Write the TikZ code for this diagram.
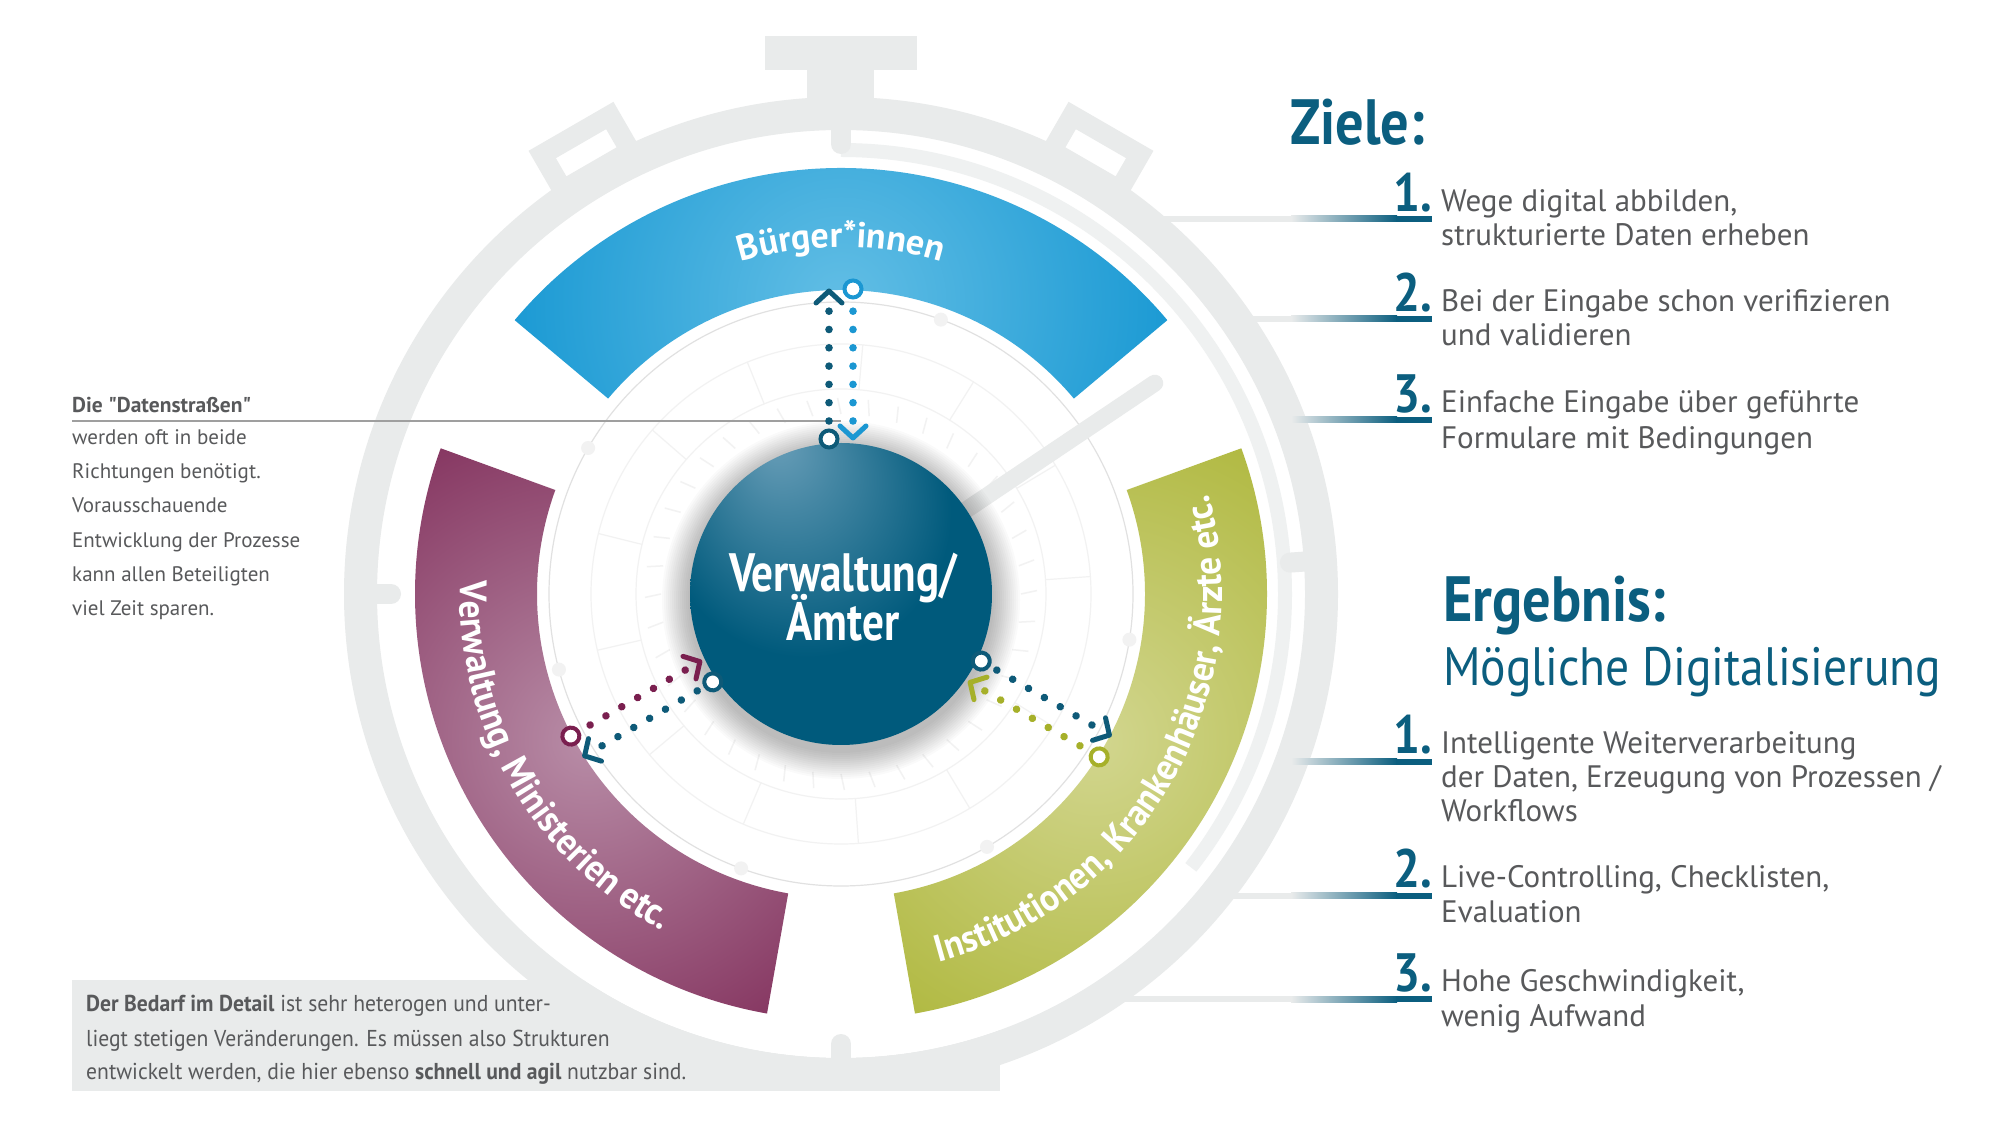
\documentclass[tikz,border=0pt]{standalone}
\usepackage{fontspec}
\setmainfont{PT Sans}
\newfontfamily\condfont[FakeStretch=0.88]{PT Sans}
\newfontfamily\botfont[FakeStretch=0.94]{PT Sans}
\newfontfamily\narrowfont[FakeStretch=0.80]{PT Sans}
\newfontfamily\labelfont[FakeStretch=0.93]{PT Sans}
\usetikzlibrary{calc,decorations.text}

\definecolor{ringgray}{HTML}{E9EBEB}
\definecolor{arcgray}{HTML}{EFF1F1}
\definecolor{tealc}{HTML}{0B5E7F}
\definecolor{txtgray}{HTML}{58595B}
\definecolor{bluedark}{HTML}{0890CF}
\definecolor{bluelight}{HTML}{62BEE5}
\definecolor{purdark}{HTML}{761B4B}
\definecolor{purlight}{HTML}{B88DA7}
\definecolor{grndark}{HTML}{A6B029}
\definecolor{grnlight}{HTML}{D2D68F}
\definecolor{centerdark}{HTML}{005A7C}
\definecolor{centerlight}{HTML}{6A9FB9}
\definecolor{dotteal}{HTML}{0E5A78}
\definecolor{dotblue}{HTML}{1B97D2}
\definecolor{dotpur}{HTML}{7A1F4F}
\definecolor{dotgrn}{HTML}{A6B02A}
\definecolor{faint}{HTML}{F2F2F2}

\pgfdeclareradialshading{centersh}{\pgfpoint{-11bp}{26bp}}{color(0bp)=(centerlight); color(8bp)=(centerlight!65!centerdark); color(24bp)=(centerdark); color(50bp)=(centerdark)}

\newcommand{\dataroad}[2]{%
 \begin{scope}[shift={(C)}, rotate=#1]
  \foreach \i in {0,...,6}{\fill[dotteal] ({173+18.3*\i},12) circle (3.8);}
  \draw[dotteal, line width=4, fill=white] (155,12) circle (8.5);
  \draw[dotteal, chev] (291,25) -- (303,12) -- (291,-1);
  \foreach \i in {0,...,6}{\fill[#2] ({173+18.3*\i},-12) circle (3.8);}
  \draw[#2, line width=4, fill=white] (305,-12) circle (8.5);
  \draw[#2, chev] (168,1) -- (156,-12) -- (168,-25);
 \end{scope}}

\newcommand{\itemline}[2]{%
  \draw[ringgray, line width=6] (#1,#2) -- (1292,#2);
  \shade[left color=ringgray, right color=tealc] (1291,#2-3) rectangle (1397,#2+3);
  \fill[tealc] (1396,#2-3) rectangle (1432,#2+3);}

\begin{document}
\begin{tikzpicture}[x=1pt,y=1pt,
  chev/.style={line width=5, line cap=round, line join=round},
  itemtxt/.style={anchor=base west, inner sep=0pt, text=txtgray, font=\fontsize{31}{34}\selectfont},
  numtxt/.style={anchor=base east, inner sep=0pt, text=tealc, font=\condfont\bfseries\fontsize{54}{54}\selectfont},
  headtxt/.style={anchor=base west, inner sep=0pt, text=tealc, font=\condfont\bfseries\fontsize{64}{64}\selectfont},
  lefttxt/.style={anchor=base west, inner sep=0pt, text=txtgray, font=\fontsize{21}{24}\selectfont},
  bottxt/.style={anchor=base west, inner sep=0pt, text=txtgray, font=\botfont\fontsize{23}{26}\selectfont},
  nub/.style={ringgray, line width=20, line cap=round},
  centertxt/.style={anchor=base, inner sep=0pt, text=white, font=\narrowfont\bfseries\fontsize{54}{54}\selectfont},
]
\useasboundingbox (0,0) rectangle (2000,1125);
\fill[white] (0,0) rectangle (2000,1125);
\coordinate (C) at (841,531);

% bottom grey box
\fill[ringgray] (72,34) rectangle (1000,145);
% watch interior
\fill[white] (C) circle (464);
% ring
\fill[ringgray, even odd rule] (C) circle (497) (C) circle (464);
% crown
\fill[ringgray] (765,1055) rectangle (917,1089);
\fill[ringgray] (807,1010) rectangle (874,1056);
% side buttons
\foreach \r in {30,-30}{
  \begin{scope}[shift={(C)}, rotate=\r]
    \fill[ringgray, even odd rule] (-49,480) rectangle (49,540) (-29,499) rectangle (29,520);
  \end{scope}}
% inner arc
\draw[arcgray, line width=14] ($(C)+(90:444)$) arc[start angle=90, end angle=-38, radius=444];
% nubs
\foreach \a in {90,180,270,4}{\draw[nub] ($(C)+(\a:470)$) -- ($(C)+(\a:450)$);}

% faint pattern
\foreach \rr in {205,250}{\draw[faint, line width=1.2] (C) circle (\rr);}
\draw[faint!85!gray, line width=1.2] (C) circle (292);
\foreach \a in {-9,70,150,195,250,300}{\fill[faint] ($(C)+(\a:292)$) circle (7);}
\foreach \a in {0,9,...,351}{\draw[faint, line width=1.5] ($(C)+(\a:180)$) -- ($(C)+(\a+1:196)$);}
\foreach \a in {4,31,...,350}{\draw[faint, line width=1.2] ($(C)+(\a:205)$) -- ($(C)+(\a:250)$);}

% hand
\draw[ringgray, line width=17, line cap=round] (C) -- ($(C)+(33.9:378)$);

% sectors
\begin{scope}[shift={(C)}]
  \begin{scope}
    \clip (40:304) arc[start angle=40,end angle=140,radius=304] -- (140:426) arc[start angle=140,end angle=40,radius=426] -- cycle;
    \shade[inner color=bluelight, outer color=bluedark] (90:292) circle (420);
  \end{scope}
  \begin{scope}
    \clip (160:304) arc[start angle=160,end angle=260,radius=304] -- (260:426) arc[start angle=260,end angle=160,radius=426] -- cycle;
    \shade[inner color=purlight, outer color=purdark] (210:292) circle (440);
  \end{scope}
  \begin{scope}
    \clip (280:304) arc[start angle=280,end angle=380,radius=304] -- (380:426) arc[start angle=380,end angle=280,radius=426] -- cycle;
    \shade[inner color=grnlight, outer color=grndark] (330:292) circle (440);
  \end{scope}
  % sector labels
  \path[decorate, decoration={text along path, text align=center, text color=white,
     text={|\bfseries\fontsize{36}{36}\selectfont|Bürger*innen}}]
     (150:347) arc[start angle=150, end angle=30, radius=347];
  \path[decorate, decoration={text along path, text align=center, text color=white,
     text={|\labelfont\bfseries\fontsize{38}{38}\selectfont|Verwaltung, Ministerien etc.}}]
     (140:381) arc[start angle=140, end angle=280, radius=381];
  \path[decorate, decoration={text along path, text align=center, text color=white,
     text={|\labelfont\bfseries\fontsize{38}{38}\selectfont|Institutionen, Krankenhäuser, Ärzte etc.}}]
     (260:381) arc[start angle=260, end angle=400, radius=381];
\end{scope}

% centre circle with shadow
\foreach \k in {1,...,14}{\fill[black, opacity=0.018] ($(C)+(0,-6)$) circle ({151+2*\k});}
\shade[shading=centersh] (C) circle (151);
\node[centertxt] (vw) at (843,533) {Verwaltung/};
\node[centertxt] (am) at (843,484) {Ämter};

% Datenstrassen annotation
\node[lefttxt, font=\bfseries\fontsize{21.5}{24}\selectfont] (ds) at (72,712) {Die \textquotedbl Datenstraßen\textquotedbl};
\coordinate (dsend) at (841,704);
\draw[gray!75, line width=2] (72,704) -- (dsend);
\node[lefttxt] (l1) at (72,680) {werden oft in beide};
\node[lefttxt] (l2) at (72,646) {Richtungen benötigt.};
\node[lefttxt] (l3) at (72,612) {Vorausschauende};
\node[lefttxt] (l4) at (72,577) {Entwicklung der Prozesse};
\node[lefttxt] (l5) at (72,543) {kann allen Beteiligten};
\node[lefttxt] (l6) at (72,509) {viel Zeit sparen.};

% data roads
\dataroad{90}{dotblue}
\dataroad{210}{dotpur}
\dataroad{330}{dotgrn}

% right side: Ziele
\node[headtxt] (ziele) at (1290,980) {Ziele:};
\itemline{1156}{906}
\node[numtxt] (z1n) at (1432,913) {1.};
\node[itemtxt] (z1a) at (1441,913) {Wege digital abbilden,};
\node[itemtxt] (z1b) at (1441,879) {strukturierte Daten erheben};
\itemline{1247}{806}
\node[numtxt] (z2n) at (1432,813) {2.};
\node[itemtxt] (z2a) at (1441,813) {Bei der Eingabe schon verifizieren};
\node[itemtxt] (z2b) at (1441,779) {und validieren};
\itemline{1299}{705}
\node[numtxt] (z3n) at (1432,712) {3.};
\node[itemtxt] (z3a) at (1441,712) {Einfache Eingabe über geführte};
\node[itemtxt] (z3b) at (1441,676) {Formulare mit Bedingungen};

% right side: Ergebnis
\node[headtxt] (erg) at (1443,503) {Ergebnis:};
\node[anchor=base west, inner sep=0pt, text=tealc, font=\condfont\fontsize{54}{54}\selectfont] (moeg) at (1443,439) {Mögliche Digitalisierung};
\itemline{1301}{363}
\node[numtxt] (e1n) at (1432,371) {1.};
\node[itemtxt] (e1a) at (1441,371) {Intelligente Weiterverarbeitung};
\node[itemtxt] (e1b) at (1441,337) {der Daten, Erzeugung von Prozessen /};
\node[itemtxt] (e1c) at (1441,303) {Workflows};
\itemline{1227}{229}
\node[numtxt] (e2n) at (1432,237) {2.};
\node[itemtxt] (e2a) at (1441,237) {Live-Controlling, Checklisten,};
\node[itemtxt] (e2b) at (1441,202) {Evaluation};
\itemline{1117}{126}
\node[numtxt] (e3n) at (1432,134) {3.};
\node[itemtxt] (e3a) at (1441,134) {Hohe Geschwindigkeit,};
\node[itemtxt] (e3b) at (1441,99) {wenig Aufwand};

% bottom text
\node[bottxt] (b1) at (86,114) {\textbf{Der Bedarf im Detail} ist sehr heterogen und unter-};
\node[bottxt] (b2) at (86,79) {liegt stetigen Veränderungen. Es müssen also Strukturen};
\node[bottxt] (b3) at (86,46) {entwickelt werden, die hier ebenso \textbf{schnell und agil} nutzbar sind.};
\end{tikzpicture}
\end{document}
